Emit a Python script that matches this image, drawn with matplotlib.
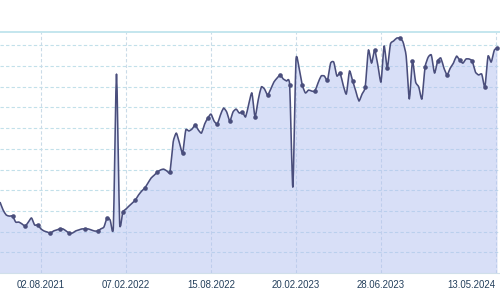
import matplotlib
matplotlib.use("Agg")
import matplotlib.pyplot as plt
from matplotlib.path import Path
from matplotlib.patches import PathPatch
import numpy as np

# values per period (index positions 0..158)
values = [
    34.3, 30.4, 28.0, 27.5, 27.5, 24.6, 24.6, 23.7, 22.7, 24.6,
    26.6, 23.2, 23.2, 21.3, 20.3, 19.8, 19.3, 20.3, 20.8, 21.3,
    21.3, 20.3, 19.3, 19.3, 20.3, 20.8, 21.3, 21.3, 21.3, 20.8,
    20.3, 20.3, 21.3, 22.2, 26.6, 25.6, 22.2, 96.1, 24.2, 29.5,
    30.9, 32.4, 33.8, 35.3, 37.7, 39.6, 41.1, 43.5, 45.9, 47.3,
    48.8, 49.8, 50.2, 49.3, 48.8, 63.3, 67.6, 62.8, 58.0, 69.1,
    68.6, 69.6, 71.5, 69.1, 67.6, 72.0, 74.9, 76.8, 73.4, 72.0,
    76.3, 79.7, 77.8, 73.4, 77.8, 79.2, 77.3, 77.8, 75.4, 81.6,
    87.0, 75.4, 83.6, 89.9, 88.9, 86.0, 88.9, 92.3, 94.2, 95.7,
    93.7, 92.8, 90.8, 41.5, 102.9, 99.0, 90.8, 87.0, 88.4, 87.9,
    87.9, 91.8, 95.2, 95.2, 93.2, 101.4, 101.9, 95.2, 96.6, 90.8,
    86.5, 97.6, 92.8, 87.9, 83.1, 86.5, 89.9, 107.7, 101.4, 107.7,
    100.5, 92.3, 109.7, 99.0, 110.6, 112.1, 113.5, 113.5, 111.6, 104.8,
    84.1, 102.4, 92.3, 89.9, 84.1, 99.5, 104.3, 105.3, 96.6, 102.4,
    103.9, 99.0, 95.7, 99.0, 101.4, 104.8, 102.9, 101.4, 103.4, 103.4,
    102.4, 97.1, 95.7, 96.1, 89.9, 104.8, 101.9, 107.7, 108.7,
]
marker_idx = [4, 8, 12, 16, 19, 22, 27, 31, 34, 39, 43, 46, 50, 54, 58, 62,
              66, 69, 73, 77, 81, 85, 89, 92, 96, 100, 104, 108, 112, 116,
              119, 123, 127, 131, 135, 139, 142, 146, 150, 154, 158]
tick_pos = [13, 40, 67, 94, 121, 157.5]
tick_labels = ["02.08.2021", "07.02.2022", "15.08.2022", "20.02.2023",
               "28.06.2023", "13.05.2024"]
grid_levels = [10, 20, 30, 40, 50, 60, 70, 80, 90, 100, 110]

x = np.arange(len(values), dtype=float)
y = np.array(values, dtype=float)


def spline_path_parts(xs, ys, k=0.18):
    """Bezier (spline-style) path segments through the data points."""
    verts = [(xs[0], ys[0])]
    codes = [Path.MOVETO]
    n = len(xs)
    for i in range(n - 1):
        p0 = i - 1 if i > 0 else i
        p3 = i + 2 if i + 2 < n else i + 1
        c1 = (xs[i] + k * (xs[i + 1] - xs[p0]) / 1.0 * 0.5,
              ys[i] + k * (ys[i + 1] - ys[p0]) * 0.5)
        c2 = (xs[i + 1] - k * (xs[p3] - xs[i]) * 0.5,
              ys[i + 1] - k * (ys[p3] - ys[i]) * 0.5)
        verts += [c1, c2, (xs[i + 1], ys[i + 1])]
        codes += [Path.CURVE4] * 3
    return verts, codes


fig = plt.figure(figsize=(5.0, 2.9), dpi=100)
ax = fig.add_axes([0.0, 17 / 290, 1.0, (273 - 31.7) / 290])
ax.set_xlim(0, 158.8)
ax.set_ylim(0, 116.6)

for s in ax.spines.values():
    s.set_visible(False)

grid_col = "#c2e0ea"
for g in grid_levels:
    ax.axhline(g, color=grid_col, lw=0.8, ls=(0, (3, 2)), zorder=1)
for t in tick_pos:
    ax.axvline(t, color="#cadbe8", lw=0.8, ls=(0, (3, 2)), zorder=1)
ax.axhline(116.6, color="#c4e6ee", lw=1.4, zorder=1, clip_on=False)
ax.axhline(0, color="#d0dfea", lw=0.8, zorder=1, clip_on=False)

lv, lc = spline_path_parts(x, y)
fv = lv + [(x[-1], 0.0), (x[0], 0.0), (x[0], y[0])]
fc = lc + [Path.LINETO, Path.LINETO, Path.CLOSEPOLY]
ax.add_patch(PathPatch(Path(fv, fc), facecolor="#b3c0f0", alpha=0.5,
                       lw=0, zorder=2))
ax.add_patch(PathPatch(Path(lv, lc), facecolor="none", edgecolor="#4a4e7c",
                       lw=1.15, zorder=3, joinstyle="round"))
ax.plot(x[marker_idx], y[marker_idx], "o", color="#4a4e7c", ms=3.3,
        mec="none", zorder=4)

ax.set_yticks([])
ax.set_xticks(tick_pos)
ax.set_xticklabels(tick_labels, fontfamily="Liberation Sans", fontsize=6.9,
                   color="#233f5c")
ax.tick_params(axis="x", length=0, pad=5)
lbls = ax.get_xticklabels()
lbls[-1].set_horizontalalignment("right")

fig.savefig("out.png", dpi=100)
